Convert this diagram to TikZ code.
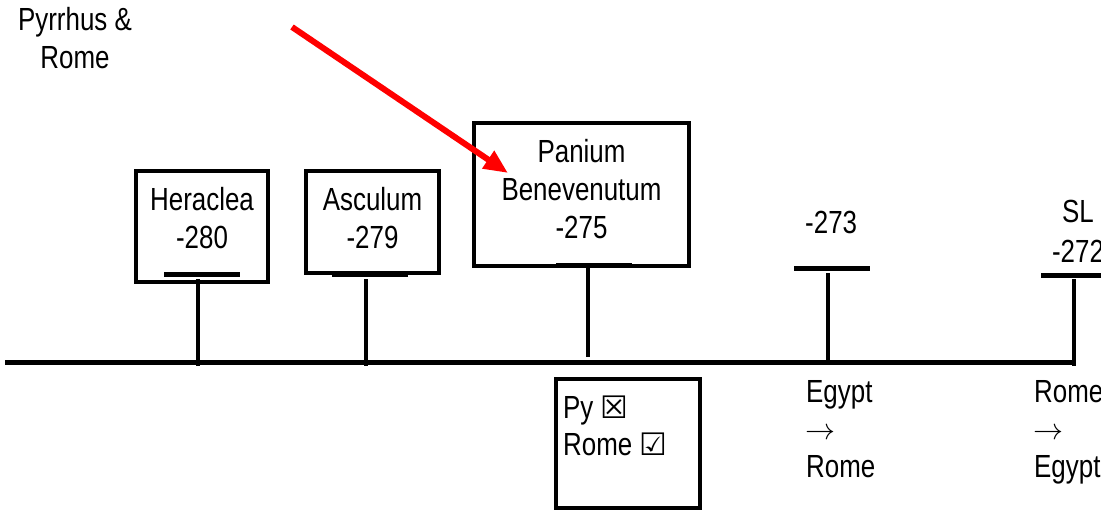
\documentclass[tikz,border=0pt]{standalone}
\usepackage{fontspec}
\setmainfont{Liberation Sans}[FakeStretch=0.81]
\newfontfamily\symf{DejaVu Sans}
\usetikzlibrary{arrows.meta}
\newcommand{\chk}[1]{{\symf\fontsize{31}{34}\selectfont #1}}
\newcommand{\rarr}{\scalebox{3.0}{\fontsize{10}{12}\selectfont$\rightarrow$}}
\begin{document}
\begin{tikzpicture}[x=1pt,y=-1pt,
  txt/.style={font=\fontsize{32}{37.5}\selectfont, inner sep=0pt, anchor=base},
  txtl/.style={txt, anchor=base west},
  boxn/.style={draw, line width=4pt, inner sep=0pt},
  tickl/.style={line width=5pt},
  stem/.style={line width=4.2pt},
  mainl/.style={line width=4.2pt},
  redarrow/.style={draw=red, line width=6pt, -{Triangle[length=24pt,width=20pt]}}
]
\useasboundingbox (0,0) rectangle (1101,512);
\fill[white] (0,0) rectangle (1101,512);

% title
\node[txt] (t1) at (75,30) {Pyrrhus \&};
\node[txt] (t2) at (75,68) {Rome};

% boxes
\node[boxn, minimum width=132pt, minimum height=111pt] (hb) at (202,226.5) {};
\node[txt] (h1) at (202,210) {Heraclea};
\node[txt] (h2) at (202,248) {-280};

\node[boxn, minimum width=133pt, minimum height=102pt] (ab) at (372.5,222) {};
\node[txt] (a1) at (372.5,210) {Asculum};
\node[txt] (a2) at (372.5,248) {-279};

\node[boxn, minimum width=215pt, minimum height=143pt] (pb) at (581.5,194.5) {};
\node[txt] (p1) at (581.5,162) {Panium};
\node[txt] (p2) at (581.5,200) {Benevenutum};
\node[txt] (p3) at (581.5,238) {-275};

\node[boxn, minimum width=144pt, minimum height=129pt] (rb) at (628,443.5) {};
\node[txtl] (r1) at (563,418) {Py \chk{☒}};
\node[txtl] (r2) at (563,455) {Rome \chk{☑}};

% -273
\node[txtl] (d273) at (805,233) {-273};
\node[txtl] (e1) at (806,402) {Egypt};
\node[txtl] (e2) at (805,439.5) {\rarr};
\node[txtl] (e3) at (806,477) {Rome};

% -272
\node[txt] (s1) at (1078,222) {SL};
\node[txt] (s2) at (1078,262) {-272};
\node[txtl] (f1) at (1034,402) {Rome};
\node[txtl] (f2) at (1033,439.5) {\rarr};
\node[txtl] (f3) at (1034,477) {Egypt};

% main line
\coordinate (L) at (5,362.5);
\coordinate (R) at (1076,362.5);
\draw[mainl] (L) -- (R);

% ticks
\coordinate (hk1) at (164,274.5); \coordinate (hk2) at (240,274.5);
\coordinate (ak1) at (332,274.5); \coordinate (ak2) at (408,274.5);
\coordinate (pk1) at (556,265);   \coordinate (pk2) at (632,265);
\coordinate (dk1) at (794,268);   \coordinate (dk2) at (870,268);
\coordinate (sk1) at (1041,275);  \coordinate (sk2) at (1110,275);
\draw[tickl] (hk1) -- (hk2);
\draw[tickl] (ak1) -- (ak2);
\draw[tickl] (pk1) -- (pk2);
\draw[tickl] (dk1) -- (dk2);
\draw[tickl] (sk1) -- (sk2);

% stems
\coordinate (hs1) at (198,279);  \coordinate (hs2) at (198,365.5);
\coordinate (as1) at (366,279);  \coordinate (as2) at (366,365.5);
\coordinate (ps1) at (588,268);  \coordinate (ps2) at (588,357);
\coordinate (ds1) at (828,273);  \coordinate (ds2) at (828,362.5);
\coordinate (ss1) at (1074,279); \coordinate (ss2) at (1074,365.5);
\draw[stem] (hs1) -- (hs2);
\draw[stem] (as1) -- (as2);
\draw[stem] (ps1) -- (ps2);
\draw[stem] (ds1) -- (ds2);
\draw[stem] (ss1) -- (ss2);

% red arrow
\coordinate (ra1) at (292,27);
\coordinate (ra2) at (508,173);
\draw[redarrow] (ra1) -- (ra2);
\end{tikzpicture}
\end{document}
